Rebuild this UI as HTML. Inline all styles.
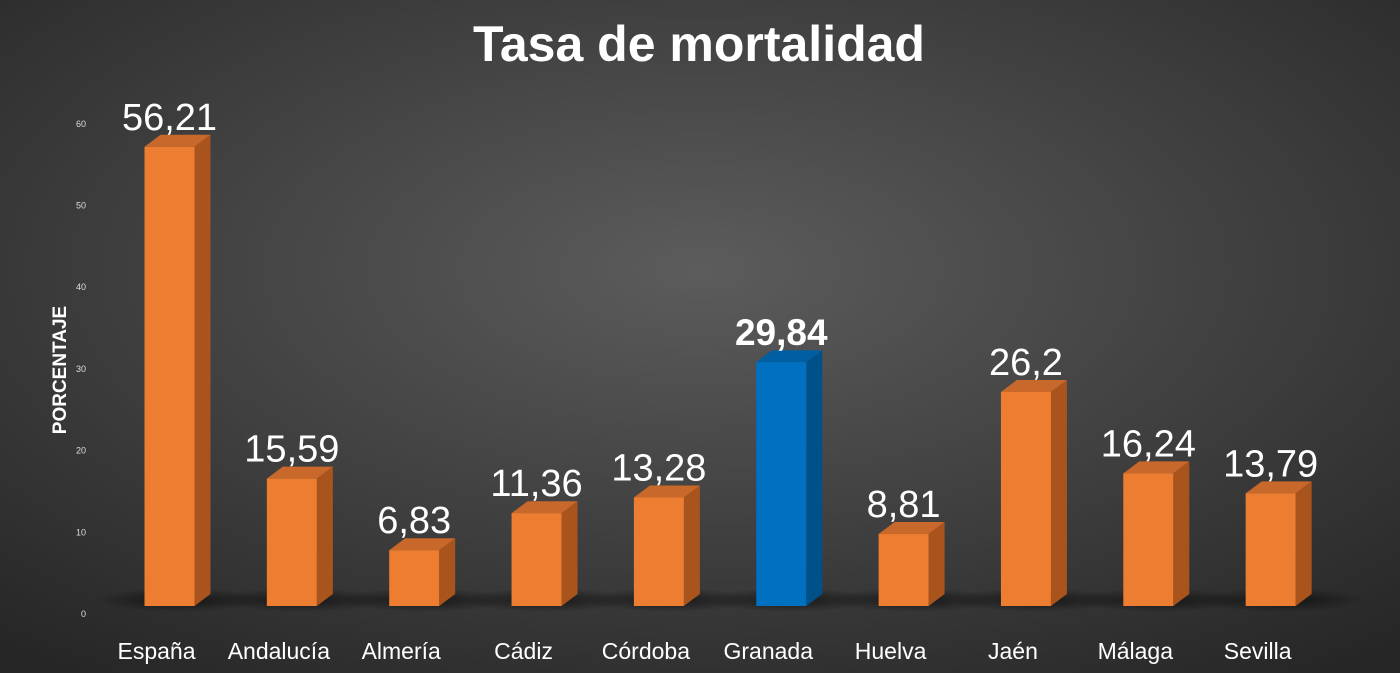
<!DOCTYPE html>
<html><head><meta charset="utf-8"><style>
html,body{margin:0;padding:0;width:1400px;height:673px;overflow:hidden;background:#333}
svg{display:block}
text{font-family:"Liberation Sans",sans-serif}
</style></head><body>
<svg id="chart" width="1400" height="673">
<defs>
<radialGradient id="bg" cx="50%" cy="40%" r="75%">
<stop offset="0" stop-color="#5c5c5c"/><stop offset="1" stop-color="#262626"/>
</radialGradient>
<radialGradient id="sh" cx="50%" cy="50%" r="50%">
<stop offset="0" stop-color="#000" stop-opacity="0.6"/><stop offset="1" stop-color="#000" stop-opacity="0"/>
</radialGradient>
</defs>
<rect width="1400" height="673" fill="url(#bg)"/>
<text x="699" y="61" text-anchor="middle" font-size="50" font-weight="bold" fill="#fff">Tasa de mortalidad</text>
<text transform="translate(66,370) rotate(-90)" text-anchor="middle" font-size="19" font-weight="bold" fill="#fff">PORCENTAJE</text>
<g id="yticks"></g>
<g id="bars"></g>
</svg>
<script>
const categories=["España","Andalucía","Almería","Cádiz","Córdoba","Granada","Huelva","Jaén","Málaga","Sevilla"];
const values=[56.21,15.59,6.83,11.36,13.28,29.84,8.81,26.2,16.24,13.79];
const valueLabels=["56,21","15,59","6,83","11,36","13,28","29,84","8,81","26,2","16,24","13,79"];
const highlight=["Granada"];
const yTicks=[0,10,20,30,40,50,60];

const NS="http://www.w3.org/2000/svg";
const base=606, perUnit=8.17;
const yScale=v=>base-v*perUnit;
const xCenter=i=>169.5+i*122.35;
const bw=50, dx=16, dy=12;
function mk(tag,attrs,parent){const e=document.createElementNS(NS,tag);for(const k in attrs)e.setAttribute(k,attrs[k]);parent.appendChild(e);return e;}
const yt=document.getElementById('yticks');
yTicks.forEach(t=>{
  const e=mk('text',{x:86,y:yScale(t)+11,'text-anchor':'end','font-size':9,fill:'#ddd'},yt);
  
  
  e.textContent=t;
});
const g=document.getElementById('bars');
categories.forEach((c,i)=>{
  const cx=xCenter(i), x0=cx-bw/2, x1=cx+bw/2, top=yScale(values[i]);
  const hi=highlight.includes(c);
  const front=hi?'#0070c0':'#ed7d31', side=hi?'#00508a':'#a9531d', topc=hi?'#005ea3':'#c8682a';
  const s=mk('ellipse',{cx:cx+10,cy:base-6,rx:85,ry:12,fill:'url(#sh)'},g);
  
  
  const sd=mk('polygon',{points:`${x1},${top} ${x1+dx},${top-dy} ${x1+dx},${base-dy} ${x1},${base}`,fill:side},g);
  
  
  const tp=mk('polygon',{points:`${x0},${top} ${x0+dx},${top-dy} ${x1+dx},${top-dy} ${x1},${top}`,fill:topc},g);
  
  
  const r=mk('rect',{x:x0,y:top,width:bw,height:base-top,fill:front},g);
  
  
  const v=mk('text',{x:cx+0,y:top-17,'text-anchor':'middle','font-size':hi?37:38,'font-weight':hi?'bold':'normal',fill:'#fff'},g);
  
  
  v.textContent=valueLabels[i];
  const l=mk('text',{x:cx-13,y:659,'text-anchor':'middle','font-size':23,fill:'#fff'},g);
  
  
  l.textContent=c;
});
</script>
</body></html>
